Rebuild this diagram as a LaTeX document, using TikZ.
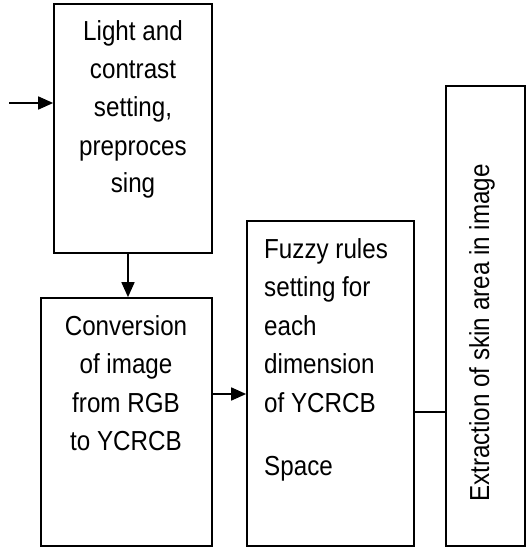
\documentclass[tikz,border=0pt]{standalone}
\usepackage{fontspec}
\setmainfont{Liberation Sans}[FakeStretch=0.88]
\usetikzlibrary{arrows.meta}
\begin{document}
\begin{tikzpicture}[x=1pt,y=-1pt,
  box/.style={draw, line width=1.7pt, inner sep=0pt, rectangle},
  txt/.style={inner sep=0pt, font=\fontsize{27.5}{32}\selectfont},
  arr/.style={line width=1.7pt, -{Triangle[length=15pt,width=13pt]}},
  conn/.style={line width=1.7pt}]
\useasboundingbox (0,0) rectangle (526,548);
% boxes
\node[box, minimum width=158pt, minimum height=249pt] (b1) at (133,128.5) {};
\node[box, minimum width=171pt, minimum height=248pt] (b2) at (126.5,422) {};
\node[box, minimum width=167pt, minimum height=325pt] (b3) at (330.5,383.5) {};
\node[box, minimum width=79pt, minimum height=460pt] (b4) at (485.5,316) {};
% texts box 1
\node[txt, anchor=base] (t1a) at (133,41) {Light and};
\node[txt, anchor=base] (t1b) at (133,79) {contrast};
\node[txt, anchor=base] (t1c) at (133,117) {setting,};
\node[txt, anchor=base] (t1d) at (133,156) {preproces};
\node[txt, anchor=base] (t1e) at (133,193) {sing};
% texts box 2
\node[txt, anchor=base] (t2a) at (126,335) {Conversion};
\node[txt, anchor=base] (t2b) at (126,373) {of image};
\node[txt, anchor=base] (t2c) at (126,412) {from RGB};
\node[txt, anchor=base] (t2d) at (126,450) {to YCRCB};
% texts box 3
\node[txt, anchor=base west] (t3a) at (264,258) {Fuzzy rules};
\node[txt, anchor=base west] (t3b) at (264,296) {setting for};
\node[txt, anchor=base west] (t3c) at (264,335) {each};
\node[txt, anchor=base west] (t3d) at (264,373) {dimension};
\node[txt, anchor=base west] (t3e) at (264,412) {of YCRCB};
\node[txt, anchor=base west] (t3f) at (264,475) {Space};
% text box 4
\node[txt, anchor=base west, rotate=90] (t4) at (489,502) {Extraction of skin area in image};
% connectors
\coordinate (in) at (9,103);
\draw[arr] (in) -- (in -| b1.west);
\coordinate (dx) at (128,0);
\draw[arr] (dx |- b1.south) -- (dx |- b2.north);
\coordinate (h1) at (0,394);
\draw[arr] (h1 -| b2.east) -- (h1 -| b3.west);
\coordinate (h2) at (0,412);
\draw[conn] (h2 -| b3.east) -- (h2 -| b4.west);
\end{tikzpicture}
\end{document}
